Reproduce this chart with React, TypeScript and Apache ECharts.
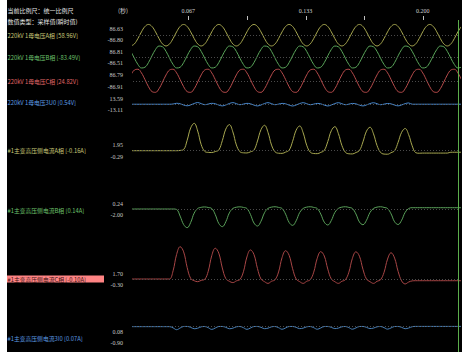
import React, { useEffect, useRef } from 'react';
import * as echarts from 'echarts';

// ---- sampling grid (seconds) ----
const T0 = 0.034;
const DT = 0.002;
const X_MIN = 0.0352;
const X_MAX = 0.2212;
const CURSOR_T = 0.2212;
const TICK_VALUES = [0.2 / 3, 0.1, 0.4 / 3, 0.5 / 3, 0.2];
const LABEL_VALUES = [0.2 / 3, 0.4 / 3, 0.2];

// ---- channel texts ----
const channelNames = [
  '220kV 1母电压A相',
  '220kV 1母电压B相',
  '220kV 1母电压C相',
  '220kV 1母电压3U0',
  '#1主变高压侧电流A相',
  '#1主变高压侧电流B相',
  '#1主变高压侧电流C相',
  '#1主变高压侧电流3I0',
];
const cursorValues = ['[58.96V]', '[-83.49V]', '[24.82V]', '[0.54V]', '[-0.16A]', '[0.14A]', '[-0.10A]', '[0.07A]'];
const maxLabels = ['86.63', '86.81', '86.79', '13.59', '1.95', '0.24', '1.70', '0.08'];
const minLabels = ['-86.80', '-86.51', '-86.91', '-13.11', '-0.29', '-2.00', '-0.30', '-0.90'];

// ---- sampled values ----
const UA = [
  -86.8, -70.2, -26.8, 26.8, 70.1, 86.6, 70.1, 26.8, -26.8, -70.2,
  -86.8, -70.2, -26.8, 26.8, 70.1, 86.6, 70.1, 26.8, -26.8, -70.2,
  -86.8, -70.2, -26.8, 26.8, 70.1, 86.6, 70.1, 26.8, -26.8, -70.2,
  -86.8, -70.2, -26.8, 26.8, 70.1, 86.6, 70.1, 26.8, -26.8, -70.2,
  -86.8, -70.2, -26.8, 26.8, 70.1, 86.6, 70.1, 26.8, -26.8, -70.2,
  -86.8, -70.2, -26.8, 26.8, 70.1, 86.6, 70.1, 26.8, -26.8, -70.2,
  -86.8, -70.2, -26.8, 26.8, 70.1, 86.6, 70.1, 26.8, -26.8, -70.2,
  -86.8, -70.2, -26.8, 26.8, 70.1, 86.6, 70.1, 26.8, -26.8, -70.2,
  -86.8, -70.2, -26.8, 26.8, 70.1, 86.6, 70.1, 26.8, -26.8, -70.2,
  -86.8, -70.2, -26.8, 26.8, 70.1,
];
const UB = [
  43.4, -9.1, -58.0, -84.8, -79.2, -43.4, 9.1, 58.0, 84.8, 79.2,
  43.4, -9.1, -58.0, -84.8, -79.2, -43.4, 9.1, 58.0, 84.8, 79.2,
  43.4, -9.1, -58.0, -84.8, -79.2, -43.4, 9.1, 58.0, 84.8, 79.2,
  43.4, -9.1, -58.0, -84.8, -79.2, -43.4, 9.1, 58.0, 84.8, 79.2,
  43.4, -9.1, -58.0, -84.8, -79.2, -43.4, 9.1, 58.0, 84.8, 79.2,
  43.4, -9.1, -58.0, -84.8, -79.2, -43.4, 9.1, 58.0, 84.8, 79.2,
  43.4, -9.1, -58.0, -84.8, -79.2, -43.4, 9.1, 58.0, 84.8, 79.2,
  43.4, -9.1, -58.0, -84.8, -79.2, -43.4, 9.1, 58.0, 84.8, 79.2,
  43.4, -9.1, -58.0, -84.8, -79.2, -43.4, 9.1, 58.0, 84.8, 79.2,
  43.4, -9.1, -58.0, -84.8, -79.2,
];
const UC = [
  43.4, 79.3, 84.9, 58.1, 9.1, -43.4, -79.3, -84.9, -58.1, -9.1,
  43.4, 79.3, 84.9, 58.1, 9.1, -43.4, -79.3, -84.9, -58.1, -9.1,
  43.4, 79.3, 84.9, 58.1, 9.1, -43.4, -79.3, -84.9, -58.1, -9.1,
  43.4, 79.3, 84.9, 58.1, 9.1, -43.4, -79.3, -84.9, -58.1, -9.1,
  43.4, 79.3, 84.9, 58.1, 9.1, -43.4, -79.3, -84.9, -58.1, -9.1,
  43.4, 79.3, 84.9, 58.1, 9.1, -43.4, -79.3, -84.9, -58.1, -9.1,
  43.4, 79.3, 84.9, 58.1, 9.1, -43.4, -79.3, -84.9, -58.1, -9.1,
  43.4, 79.3, 84.9, 58.1, 9.1, -43.4, -79.3, -84.9, -58.1, -9.1,
  43.4, 79.3, 84.9, 58.1, 9.1, -43.4, -79.3, -84.9, -58.1, -9.1,
  43.4, 79.3, 84.9, 58.1, 9.1,
];
const U0 = [
  0.5, 0.5, 0.5, 0.5, 0.5, 0.5, 0.5, 0.5, 0.5, 0.5,
  0.5, 0.5, 2.1, 7.8, 4.2, -5.6, -11.5, -4.8, 6.3, 13.5,
  5.2, -2.9, 1.8, 7.5, 4.0, -5.9, -12.2, -5.0, 6.0, 13.1,
  5.0, -3.1, 1.6, 7.2, 3.8, -6.1, -12.6, -5.2, 5.8, 12.8,
  4.8, -3.2, 1.5, 7.0, 3.6, -6.2, -13.1, -5.3, 5.6, 12.6,
  4.6, -3.3, 1.4, 6.8, 3.5, -6.2, -12.8, -5.2, 5.5, 12.4,
  4.5, -3.3, 1.3, 6.6, 3.4, -6.1, -12.5, -5.1, 5.4, 12.2,
  4.4, -3.2, 1.2, 6.4, 3.2, -5.9, -12.0, -4.9, 5.0, 10.5,
  0.6, 0.54, 0.54, 0.54, 0.54, 0.54, 0.54, 0.54, 0.54, 0.54,
  0.54, 0.54, 0.54, 0.54, 0.54,
];
const IA = [
  0, 0, 0, 0, 0, 0, 0, 0, 0, 0,
  0, 0, 0, 0, 0.02, 0.08, 0.74, 1.62, 1.95, 1.40,
  0.43, -0.05, -0.12, -0.13, -0.06, 0.05, 0.71, 1.54, 1.86, 1.34,
  0.41, -0.07, -0.15, -0.16, -0.08, 0.04, 0.69, 1.50, 1.81, 1.30,
  0.40, -0.08, -0.18, -0.19, -0.10, 0.03, 0.67, 1.46, 1.76, 1.27,
  0.39, -0.10, -0.20, -0.21, -0.12, 0.02, 0.65, 1.42, 1.71, 1.23,
  0.38, -0.11, -0.22, -0.23, -0.13, 0.01, 0.63, 1.39, 1.67, 1.20,
  0.37, -0.12, -0.24, -0.25, -0.14, 0.00, 0.60, 1.31, 1.58, 1.14,
  0.35, -0.14, -0.18, -0.17, -0.17, -0.17, -0.17, -0.17, -0.17, -0.17,
  -0.17, -0.11, -0.11, -0.11, -0.11,
];
const IB = [
  0, 0, 0, 0, 0, 0, 0, 0, 0, 0,
  0, 0, 0, -0.05, -0.76, -1.66, -2.00, -1.44, -0.44, 0.05,
  0.18, 0.22, 0.16, 0.05, -0.60, -1.55, -1.89, -1.36, -0.42, 0.06,
  0.19, 0.23, 0.17, 0.05, -0.58, -1.50, -1.82, -1.31, -0.40, 0.06,
  0.20, 0.24, 0.17, 0.05, -0.55, -1.44, -1.75, -1.26, -0.38, 0.06,
  0.20, 0.24, 0.17, 0.05, -0.54, -1.41, -1.71, -1.23, -0.37, 0.06,
  0.20, 0.24, 0.17, 0.05, -0.53, -1.39, -1.68, -1.21, -0.37, 0.06,
  0.20, 0.24, 0.17, 0.05, -0.52, -1.37, -1.66, -1.20, -0.36, 0.05,
  0.14, 0.14, 0.14, 0.14, 0.14, 0.14, 0.14, 0.14, 0.14, 0.14,
  0.14, 0.14, 0.14, 0.14, 0.14,
];
const IC = [
  0, 0, 0, 0, 0, 0, 0, 0, 0, 0,
  0, 0, 0.43, 1.29, 1.70, 1.43, 0.61, 0.03, -0.09, -0.14,
  -0.07, -0.02, 0.41, 1.23, 1.62, 1.36, 0.58, 0.02, -0.12, -0.19,
  -0.10, -0.03, 0.38, 1.16, 1.53, 1.29, 0.55, 0.00, -0.14, -0.23,
  -0.12, -0.04, 0.37, 1.13, 1.49, 1.25, 0.54, 0.00, -0.14, -0.23,
  -0.12, -0.04, 0.36, 1.09, 1.44, 1.21, 0.52, 0.00, -0.14, -0.23,
  -0.12, -0.04, 0.36, 1.09, 1.43, 1.20, 0.51, 0.00, -0.14, -0.23,
  -0.12, -0.04, 0.35, 1.05, 1.38, 1.10, 0.40, -0.10, -0.26, -0.16,
  -0.10, -0.09, -0.09, -0.09, -0.09, -0.09, -0.09, -0.09, -0.09, -0.09,
  -0.09, -0.09, -0.09, -0.09, -0.09,
];
const I0 = [
  0, 0, 0, 0, 0, 0, 0, 0, 0, 0,
  0, 0, -0.35, -0.88, -0.40, 0.05, 0.06, -0.20, -0.60, -0.45,
  -0.05, 0.04, -0.30, -0.80, -0.40, 0.04, 0.05, -0.20, -0.60, -0.45,
  -0.05, 0.04, -0.30, -0.78, -0.40, 0.04, 0.05, -0.20, -0.58, -0.44,
  -0.05, 0.04, -0.30, -0.76, -0.38, 0.04, 0.05, -0.20, -0.57, -0.43,
  -0.05, 0.04, -0.30, -0.75, -0.38, 0.04, 0.05, -0.20, -0.56, -0.42,
  -0.05, 0.04, -0.28, -0.74, -0.37, 0.04, 0.05, -0.20, -0.55, -0.42,
  -0.05, 0.04, -0.28, -0.72, -0.36, 0.04, 0.05, -0.20, -0.60, -0.40,
  -0.02, 0.07, 0.07, 0.07, 0.07, 0.07, 0.07, 0.07, 0.07, 0.07,
  0.07, 0.07, 0.07, 0.07, 0.07,
];
const SERIES_VALUES = [UA, UB, UC, U0, IA, IB, IC, I0];

// ---- layout & style ----
const BASE_Y = [34.4, 57.0, 80.8, 104.3, 150.7, 209.0, 279.0, 337.3];
const PX_PER_UNIT = [0.1269, 0.1292, 0.1359, 0.1292, 14.05, 9.35, 19.0, 4.9];
const NAME_Y = [35, 57.7, 81, 102.7, 150.7, 210, 279, 338];
const WAVE_COLORS = ['#a8a850', '#5aa55a', '#b84c4c', '#4a8ad0', '#a8a850', '#5aa05a', '#a84646', '#4a80b8'];
const NAME_COLORS = ['#c8c878', '#6cc06c', '#e06868', '#5c9ce0', '#c8c878', '#6cc06c', '#3a1010', '#5c9ce0'];
const SELECTED = 6;
const PLOT_LEFT = 126;
const PLOT_WIDTH = 327;
const HALF = 36;
const CJK = '"Noto Sans CJK SC", sans-serif';
const SERIF = '"Liberation Serif", serif';

function hiddenAxis(extra: any) {
  return {
    type: 'value', show: false,
    splitLine: { show: false }, axisTick: { show: false }, axisLine: { show: false }, axisLabel: { show: false },
    ...extra,
  };
}

function buildOption() {
  const n = SERIES_VALUES.length;
  const grids: any[] = [];
  const xAxes: any[] = [];
  const yAxes: any[] = [];
  const series: any[] = [];
  for (let k = 0; k < n; k++) {
    grids.push({ left: PLOT_LEFT, width: PLOT_WIDTH, top: BASE_Y[k] - HALF, height: 2 * HALF });
    xAxes.push(hiddenAxis({ gridIndex: k, min: X_MIN, max: X_MAX }));
    const r = HALF / PX_PER_UNIT[k];
    yAxes.push(hiddenAxis({ gridIndex: k, min: -r, max: r }));
    series.push({
      type: 'line',
      xAxisIndex: k,
      yAxisIndex: k,
      data: SERIES_VALUES[k].map((v, i) => [T0 + i * DT, v]),
      showSymbol: false,
      smooth: 0.4,
      lineStyle: { color: WAVE_COLORS[k], width: 1 },
      markLine: {
        silent: true,
        symbol: ['none', 'none'],
        label: { show: false },
        lineStyle: { color: '#4a4a4a', type: [1, 2], width: 1 },
        data: [{ yAxis: 0 }],
      },
      z: 3,
    });
  }
  // time axis grid
  grids.push({ left: PLOT_LEFT, width: PLOT_WIDTH, top: 20, height: 332 });
  xAxes.push({
    gridIndex: n,
    type: 'value',
    position: 'top',
    min: X_MIN,
    max: X_MAX,
    axisLine: { show: true, lineStyle: { color: '#c0c0c0', width: 1 } },
    axisTick: { show: false },
    axisLabel: {
      customValues: LABEL_VALUES,
      formatter: (v: number) => v.toFixed(3),
      color: '#d0d0d0',
      fontSize: 6,
      fontFamily: SERIF,
      margin: 6,
    },
    splitLine: { show: false },
  });
  yAxes.push(hiddenAxis({ gridIndex: n, min: 0, max: 1 }));
  // short tick marks above the time axis, placed through the time scale
  series.push({
    type: 'custom',
    xAxisIndex: n,
    yAxisIndex: n,
    data: TICK_VALUES.map((t) => [t, 1]),
    silent: true,
    clip: false,
    z: 4,
    renderItem: (params: any, api: any) => {
      const p = api.coord([api.value(0), api.value(1)]);
      const x = Math.round(p[0]) + 0.5;
      return {
        type: 'line',
        shape: { x1: x, y1: p[1] - 4, x2: x, y2: p[1] },
        style: { stroke: '#c0c0c0', lineWidth: 1 },
      };
    },
  });
  series.push({
    type: 'line',
    xAxisIndex: n,
    yAxisIndex: n,
    data: [[CURSOR_T, 0]],
    showSymbol: false,
    lineStyle: { opacity: 0 },
    markLine: {
      silent: true,
      symbol: ['none', 'none'],
      label: { show: false },
      lineStyle: { color: '#5cae4c', type: 'solid', width: 1 },
      data: [{ xAxis: CURSOR_T }],
    },
    z: 5,
  });

  const graphic: any[] = [
    { type: 'text', x: 0.5, y: 10, style: { text: '当前比例尺：统一比例尺', fill: '#e0e0e0', fontSize: 6, fontFamily: CJK, align: 'left', verticalAlign: 'middle' } },
    { type: 'text', x: 0.5, y: 21, style: { text: '数值类型：采样值(瞬时值)', fill: '#e0e0e0', fontSize: 6, fontFamily: CJK, align: 'left', verticalAlign: 'middle' } },
    { type: 'text', x: 116, y: 10, style: { text: '(秒)', fill: '#d0d0d0', fontSize: 6, fontFamily: CJK, align: 'center', verticalAlign: 'middle' } },
    { type: 'rect', shape: { x: 0, y: NAME_Y[SELECTED] - 3.5, width: 97, height: 7 }, style: { fill: '#ff8484' }, z: 1 },
  ];
  for (let k = 0; k < n; k++) {
    graphic.push({
      type: 'text',
      x: 0.5,
      y: NAME_Y[k],
      z: 2,
      style: {
        text: channelNames[k] + ' ' + cursorValues[k],
        fill: NAME_COLORS[k],
        fontSize: 5.8,
        fontFamily: CJK,
        align: 'left',
        verticalAlign: 'middle',
      },
    });
    graphic.push({
      type: 'text',
      x: 116,
      y: BASE_Y[k] - 5.5,
      style: { text: maxLabels[k], fill: '#c8c8c8', fontSize: 6, fontFamily: SERIF, align: 'right', verticalAlign: 'middle' },
    });
    graphic.push({
      type: 'text',
      x: 116,
      y: BASE_Y[k] + 5.8,
      style: { text: minLabels[k], fill: '#c8c8c8', fontSize: 6, fontFamily: SERIF, align: 'right', verticalAlign: 'middle' },
    });
  }

  return {
    animation: false,
    backgroundColor: '#000000',
    grid: grids,
    xAxis: xAxes,
    yAxis: yAxes,
    series,
    graphic,
  };
}

export default function App() {
  const ref = useRef<HTMLDivElement>(null);
  useEffect(() => {
    if (!ref.current) return;
    const chart = echarts.init(ref.current, undefined, { renderer: 'svg' });
    chart.setOption(buildOption() as any);
    return () => chart.dispose();
  }, []);
  return <div ref={ref} style={{ position: 'absolute', left: 7, top: 0, width: 455, height: 352 }} />;
}
